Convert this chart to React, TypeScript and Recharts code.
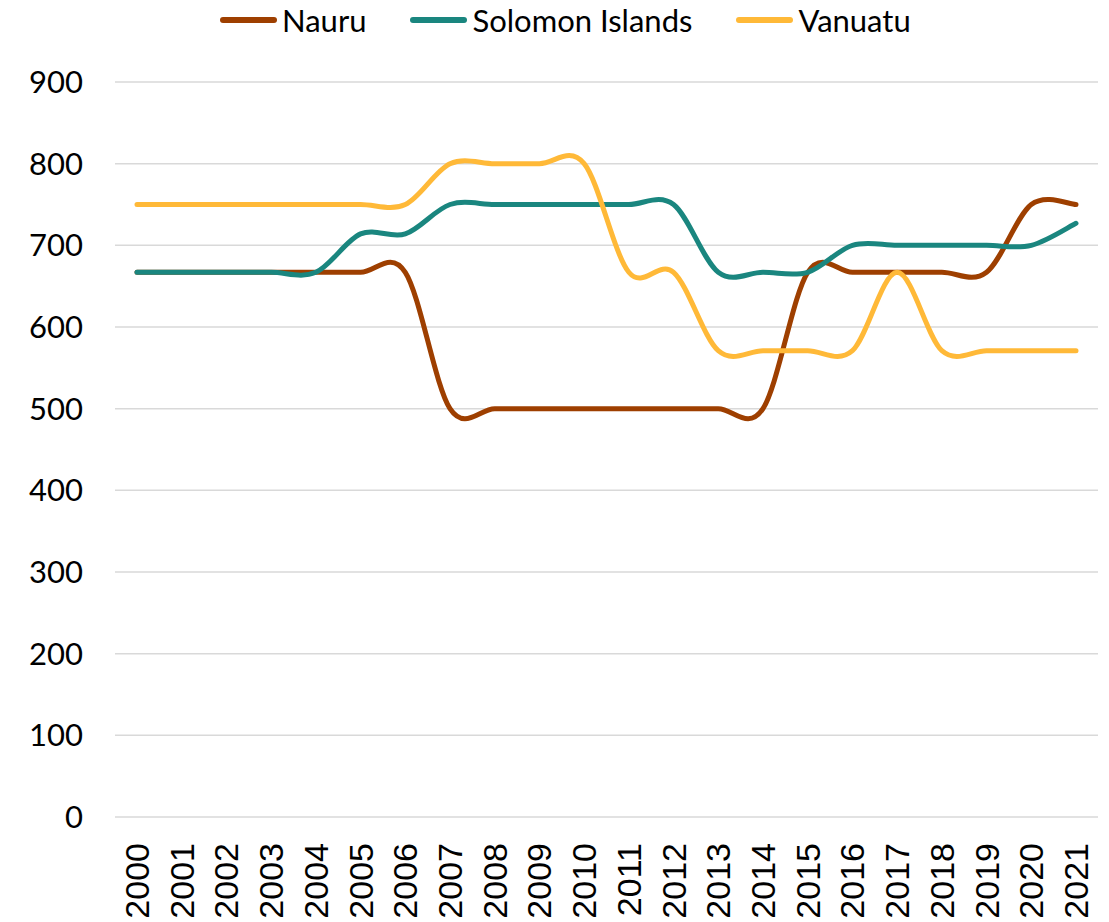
import React from "react";
import { LineChart, Line, XAxis, YAxis, CartesianGrid } from "recharts";

const years = ["2000","2001","2002","2003","2004","2005","2006","2007","2008","2009","2010","2011","2012","2013","2014","2015","2016","2017","2018","2019","2020","2021"];
const nauru = [667,667,667,667,667,667,667,500,500,500,500,500,500,500,500,667,667,667,667,667,750,750];
const solomon = [667,667,667,667,667,714,714,750,750,750,750,750,750,667,667,667,700,700,700,700,700,727];
const vanuatu = [750,750,750,750,750,750,750,800,800,800,800,667,667,571,571,571,571,667,571,571,571,571];
const yTicks = [0,100,200,300,400,500,600,700,800,900];

const series = [
  { key: "Nauru", values: nauru, color: "#9E3F00" },
  { key: "Solomon Islands", values: solomon, color: "#1A867F" },
  { key: "Vanuatu", values: vanuatu, color: "#FFB938" },
];

const data = years.map((y, i) => {
  const row: any = { year: y };
  series.forEach((s) => { row[s.key] = s.values[i]; });
  return row;
});

// Catmull-Rom style smoothing (like Excel smoothed lines)
function smoothCurve(context: any) {
  let pts: number[][] = [];
  return {
    areaStart() {},
    areaEnd() {},
    lineStart() { pts = []; },
    point(x: number, y: number) { pts.push([+x, +y]); },
    lineEnd() {
      if (!pts.length) return;
      context.moveTo(pts[0][0], pts[0][1]);
      for (let i = 0; i < pts.length - 1; i++) {
        const p0 = pts[i - 1] || pts[i];
        const p1 = pts[i];
        const p2 = pts[i + 1];
        const p3 = pts[i + 2] || pts[i + 1];
        context.bezierCurveTo(
          p1[0] + (p2[0] - p0[0]) / 6, p1[1] + (p2[1] - p0[1]) / 6,
          p2[0] - (p3[0] - p1[0]) / 6, p2[1] - (p3[1] - p1[1]) / 6,
          p2[0], p2[1]
        );
      }
    },
  };
}

const FONT = "Lato, 'Open Sans', sans-serif";

const XTick = (props: any) => {
  const { x, y, payload } = props;
  return (
    <g transform={`translate(${x},${y})`}>
      <text
        transform="rotate(-90)"
        textAnchor="end"
        dominantBaseline="central"
        fontFamily="'Liberation Sans', Arial, sans-serif"
        fontSize={34}
        fill="#000"
      >
        {payload.value}
      </text>
    </g>
  );
};

export default function App() {
  return (
    <div style={{ position: "absolute", left: 0, top: 0, width: 1109, height: 922, background: "#fff" }}>
      <div
        style={{
          position: "absolute",
          left: 220,
          top: 0,
          height: 40,
          display: "flex",
          alignItems: "center",
          fontFamily: FONT,
          fontSize: 31,
          color: "#000",
          whiteSpace: "nowrap",
        }}
      >
        {series.map((s, i) => (
          <div key={s.key} style={{ display: "flex", alignItems: "center", marginLeft: i === 0 ? 0 : 44 }}>
            <div style={{ width: 57, height: 6, borderRadius: 3, background: s.color, marginRight: 5 }} />
            <span>{s.key}</span>
          </div>
        ))}
      </div>
      <LineChart width={1109} height={922} data={data} margin={{ top: 82, right: 11, bottom: 0, left: 0 }}>
        <CartesianGrid vertical={false} stroke="#d9d9d9" strokeWidth={1.5} />
        <XAxis
          dataKey="year"
          axisLine={false}
          tickLine={false}
          tickSize={0}
          tickMargin={26}
          height={105}
          interval={0}
          padding={{ left: 22, right: 22 }}
          tick={<XTick />}
        />
        <YAxis
          domain={[0, 900]}
          ticks={yTicks}
          axisLine={false}
          tickLine={false}
          tickSize={0}
          tickMargin={32}
          width={115}
          interval={0}
          tick={{ fontFamily: FONT, fontSize: 31, fill: "#000" }}
        />
        {series.map((s) => (
          <Line
            key={s.key}
            dataKey={s.key}
            type={smoothCurve as any}
            stroke={s.color}
            strokeWidth={5}
            strokeLinecap="round"
            dot={false}
            activeDot={false}
            isAnimationActive={false}
          />
        ))}
      </LineChart>
    </div>
  );
}
